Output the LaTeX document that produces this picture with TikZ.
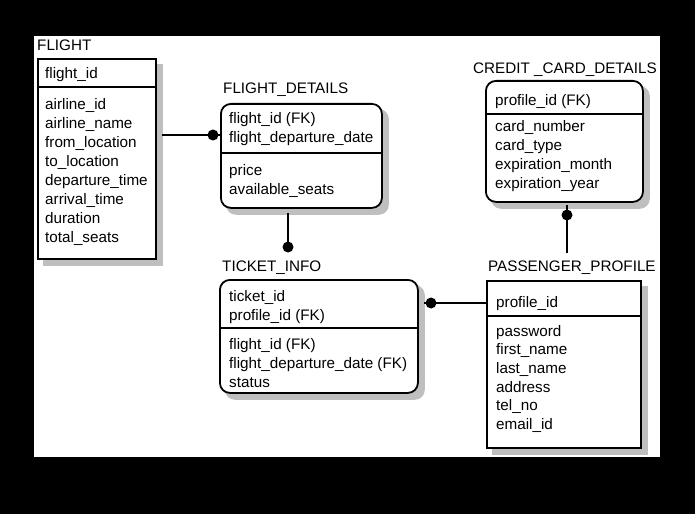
\documentclass[tikz,border=0pt]{standalone}
\usepackage{fontspec}
\setmainfont{Liberation Sans}
\usetikzlibrary{calc,backgrounds}
\newcommand{\erfont}{\fontsize{15.3}{18.8}\selectfont}
\begin{document}
\begin{tikzpicture}[x=1bp,y=-1bp,
  ent/.style={draw, line width=1.8bp, fill=white, inner sep=0, anchor=north west},
  rent/.style={ent, rounded corners=10bp},
  shadowfill/.style={fill=black!25},
  ttl/.style={anchor=base west, inner sep=0, font=\erfont},
  fld/.style={anchor=base west, inner sep=0, font=\erfont},
  sepline/.style={line width=1.2bp},
  conn/.style={line width=2.2bp},
  dotnode/.style={circle, fill=black, inner sep=0, minimum size=11bp}]

% background
\begin{pgfonlayer}{background}
\fill[black] (0,0) rectangle (695,514);
\fill[white] (34,36) rectangle (660,457);
\end{pgfonlayer}
\useasboundingbox (0,0) rectangle (695,514);

% ---------- FLIGHT ----------
\node[ttl] (tflight) at (37,51) {FLIGHT};
\node[ent, minimum width=118bp, minimum height=200bp] (flight) at (37,58) {};
\draw[sepline] (flight.west |- 0,87) -- (flight.east |- 0,87);
\node[fld] (fk1) at (45,79) {flight\_id};
\foreach \t [count=\i] in {airline\_id, airline\_name, from\_location, to\_location, departure\_time, arrival\_time, duration, total\_seats}
  \node[fld] (fa\i) at (45,{110+19*(\i-1)}) {\t};

% ---------- FLIGHT_DETAILS ----------
\node[ttl] (tfd) at (223,94) {FLIGHT\_DETAILS};
\node[rent, minimum width=161bp, minimum height=104bp] (fd) at (220,103) {};
\draw[sepline] (fd.west |- 0,153) -- (fd.east |- 0,153);
\node[fld] (fdk1) at (229,124) {flight\_id (FK)};
\node[fld] (fdk2) at (229,142.7) {flight\_departure\_date};
\node[fld] (fda1) at (229,176) {price};
\node[fld] (fda2) at (229,194.7) {available\_seats};

% ---------- CREDIT_CARD_DETAILS ----------
\node[ttl] (tccd) at (473,74) {CREDIT \_CARD\_DETAILS};
\node[rent, minimum width=157bp, minimum height=121bp] (ccd) at (485,80) {};
\draw[sepline] (ccd.west |- 0,114) -- (ccd.east |- 0,114);
\node[fld] (ccdk1) at (495,106) {profile\_id (FK)};
\foreach \t [count=\i] in {card\_number, card\_type, expiration\_month, expiration\_year}
  \node[fld] (ccda\i) at (495,{132+18.7*(\i-1)}) {\t};

% ---------- TICKET_INFO ----------
\node[ttl] (tti) at (222,272) {TICKET\_INFO};
\node[rent, minimum width=198bp, minimum height=113bp] (ti) at (219,279) {};
\draw[sepline] (ti.west |- 0,328) -- (ti.east |- 0,328);
\node[fld] (tik1) at (229,301) {ticket\_id};
\node[fld] (tik2) at (229,320) {profile\_id (FK)};
\node[fld] (tia1) at (229,349) {flight\_id (FK)};
\node[fld] (tia2) at (229,368) {flight\_departure\_date (FK)};
\node[fld] (tia3) at (229,387) {status};

% ---------- PASSENGER_PROFILE ----------
\node[ttl] (tpp) at (488,272) {PASSENGER\_PROFILE};
\node[ent, minimum width=154bp, minimum height=167bp] (pp) at (486,280) {};
\draw[sepline] (pp.west |- 0,316) -- (pp.east |- 0,316);
\node[fld] (ppk1) at (496,307) {profile\_id};
\foreach \t [count=\i] in {password, first\_name, last\_name, address, tel\_no, email\_id}
  \node[fld] (ppa\i) at (496,{336+18.7*(\i-1)}) {\t};

% ---------- shadows ----------
\begin{pgfonlayer}{background}
\fill[shadowfill] ($(flight.north west)+(6,6)$) rectangle ($(flight.south east)+(6,6)$);
\fill[shadowfill] ($(pp.north west)+(6,6)$) rectangle ($(pp.south east)+(6,6)$);
\fill[shadowfill, rounded corners=10bp] ($(fd.north west)+(6,6)$) rectangle ($(fd.south east)+(6,6)$);
\fill[shadowfill, rounded corners=10bp] ($(ccd.north west)+(6,6)$) rectangle ($(ccd.south east)+(6,6)$);
\fill[shadowfill, rounded corners=10bp] ($(ti.north west)+(6,6)$) rectangle ($(ti.south east)+(6,6)$);
\end{pgfonlayer}

% ---------- connectors ----------
\coordinate (c1) at (162,135);
\node[dotnode] (d1) at (213,135) {};
\draw[conn] (c1) -- (fd.west |- c1);

\coordinate (c2) at (288,213);
\node[dotnode] (d2) at (288,247) {};
\draw[conn] (c2) -- (d2.center);

\coordinate (c3) at (424,303);
\node[dotnode] (d3) at (431,303) {};
\draw[conn] (c3) -- (pp.west |- c3);

\coordinate (c4) at (567,205);
\coordinate (c4e) at (567,253);
\node[dotnode] (d4) at (567,215) {};
\draw[conn] (c4) -- (c4e);
\end{tikzpicture}
\end{document}
